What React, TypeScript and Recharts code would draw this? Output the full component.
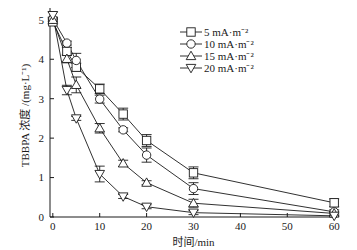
import React from 'react'
import { LineChart, Line, XAxis, YAxis, ErrorBar, Legend } from 'recharts'

const times = [0, 3, 5, 10, 15, 20, 30, 60]
const c5 = [4.95, 4.2, 3.8, 3.25, 2.61, 1.94, 1.12, 0.36]
const c10 = [5.02, 4.41, 3.97, 2.99, 2.21, 1.57, 0.72, 0.13]
const c15 = [5.0, 4.01, 3.35, 2.25, 1.36, 0.87, 0.35, 0.09]
const c20 = [5.12, 3.22, 2.5, 1.09, 0.52, 0.26, 0.11, 0.03]
const e5 = [0.06, 0.1, 0.1, 0.12, 0.15, 0.15, 0.15, 0.1]
const e10 = [0.05, 0.05, 0.18, 0.1, 0.05, 0.18, 0.15, 0.05]
const e15 = [0.05, 0.1, 0.2, 0.12, 0.08, 0.05, 0.1, 0.05]
const e20 = [0.08, 0.12, 0.05, 0.2, 0.05, 0.05, 0.05, 0.02]
const xTicks = [0, 10, 20, 30, 40, 50, 60]
const yTicks = [0, 1, 2, 3, 4, 5]

const seriesNames = ['5 mA·m⁻²', '10 mA·m⁻²', '15 mA·m⁻²', '20 mA·m⁻²']
const shapes = ['square', 'circle', 'up', 'down']

const data = times.map((t, i) => ({
  t,
  s5: c5[i], s10: c10[i], s15: c15[i], s20: c20[i],
  e5: e5[i], e10: e10[i], e15: e15[i], e20: e20[i],
}))

const font = '"Liberation Serif", "Noto Sans CJK SC", serif'
const ink = '#1a1a1a'

const Marker = ({ cx, cy, kind }: { cx: number; cy: number; kind: string }) => {
  const r = 4.2
  const p = { fill: '#fff', stroke: ink, strokeWidth: 0.9 }
  if (kind === 'square') return <rect x={cx - r} y={cy - r} width={2 * r} height={2 * r} {...p} />
  if (kind === 'circle') return <circle cx={cx} cy={cy} r={r} {...p} />
  if (kind === 'up')
    return <polygon points={`${cx},${cy - r - 0.6} ${cx - r - 0.6},${cy + r - 0.6} ${cx + r + 0.6},${cy + r - 0.6}`} {...p} />
  return <polygon points={`${cx},${cy + r + 0.6} ${cx - r - 0.6},${cy - r + 0.6} ${cx + r + 0.6},${cy - r + 0.6}`} {...p} />
}

const makeDot = (kind: string) => (props: any) => {
  const { cx, cy, index } = props
  return <Marker key={`${kind}-${index}`} cx={cx} cy={cy} kind={kind} />
}

const LegendBox = () => (
  <div style={{ fontFamily: font, fontSize: 11, color: ink, lineHeight: '12px' }}>
    {seriesNames.map((name, i) => (
      <div key={name} style={{ display: 'flex', alignItems: 'center', height: 12 }}>
        <svg width={24} height={12}>
          <line x1={1} y1={6} x2={23} y2={6} stroke={ink} strokeWidth={0.9} />
          <Marker cx={12} cy={6} kind={shapes[i]} />
        </svg>
        <span style={{ marginLeft: 1, whiteSpace: 'nowrap' }}>{name}</span>
      </div>
    ))}
  </div>
)

const keys = ['s5', 's10', 's15', 's20']
const errKeys = ['e5', 'e10', 'e15', 'e20']

export default function App() {
  return (
    <div style={{ position: 'absolute', left: 0, top: 0, background: '#fff' }}>
      <LineChart width={357} height={250} data={data} margin={{ top: 8, right: 20, bottom: 0, left: 0 }}>
        <XAxis
          dataKey="t"
          type="number"
          domain={[-0.6, 60.6]}
          ticks={xTicks}
          height={33}
          tickSize={-4}
          tickMargin={9}
          stroke={ink}
          tick={{ fill: ink, fontSize: 11, fontFamily: font }}
          label={{ value: '时间/min', position: 'insideBottom', offset: 4, fill: ink, fontSize: 11, fontFamily: font }}
        />
        <YAxis
          type="number"
          domain={[0, 5.3]}
          ticks={yTicks}
          width={50}
          tickSize={-4}
          tickMargin={10}
          stroke={ink}
          tick={{ fill: ink, fontSize: 11, fontFamily: font }}
          label={{ value: 'TBBPA 浓度 /(mg·L⁻¹)', angle: -90, position: 'center', fill: ink, fontSize: 11, fontFamily: font, dy: 3 }}
        />
        <Legend
          layout="horizontal"
          verticalAlign="middle"
          align="center"
          content={() => <LegendBox />}
          wrapperStyle={{ position: 'absolute', left: 179, top: 26, width: 'auto' }}
        />
        {keys.map((k, i) => (
          <Line
            key={k}
            dataKey={k}
            type="linear"
            stroke={ink}
            strokeWidth={0.9}
            dot={makeDot(shapes[i])}
            isAnimationActive={false}
            legendType="none"
          >
            <ErrorBar dataKey={errKeys[i]} width={5} stroke={ink} strokeWidth={0.9} direction="y" />
          </Line>
        ))}
      </LineChart>
    </div>
  )
}
